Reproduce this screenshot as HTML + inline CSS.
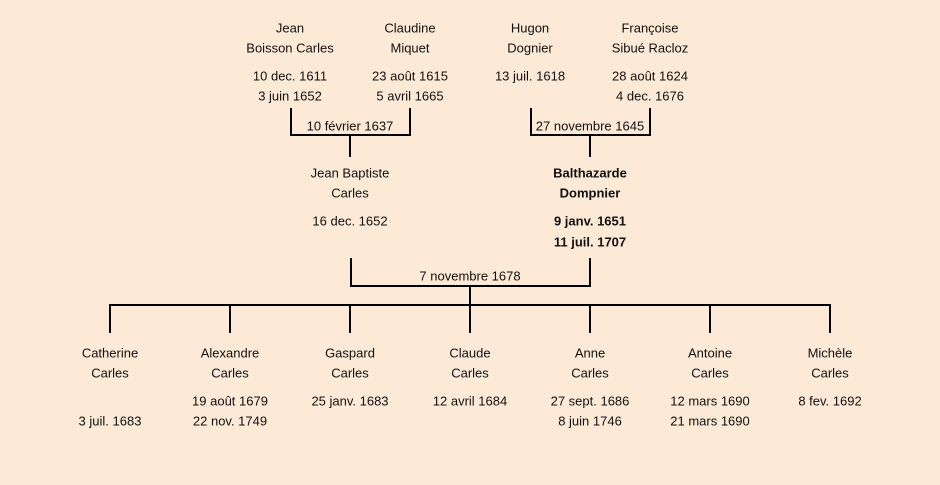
<!DOCTYPE html>
<html><head><meta charset="utf-8"><style>
html,body{margin:0;padding:0;background:#fce9d6;}
svg{display:block}
text{font-family:"Liberation Sans",sans-serif;font-size:13px;fill:#111;text-anchor:middle;dominant-baseline:central}
.b{font-weight:bold}
</style></head><body>
<svg width="940" height="485" viewBox="0 0 940 485">
<rect width="940" height="485" fill="#fce9d6"/>
<g stroke="#000" stroke-width="2" fill="none">
<path d="M291 108V135H410V108M350 135V157"/>
<path d="M531 108V135H650V108M590 135V157"/>
<path d="M351 258V286H590V258M470 286V305"/>
<path d="M110 333V305H830V333M230 305V333M350 305V333M470 305V333M590 305V333M710 305V333"/>
</g>
<g transform="translate(0,1)">
<text x="290" y="27">Jean</text><text x="290" y="47">Boisson Carles</text>
<text x="290" y="75">10 dec. 1611</text><text x="290" y="95">3 juin 1652</text>
<text x="410" y="27">Claudine</text><text x="410" y="47">Miquet</text>
<text x="410" y="75">23 août 1615</text><text x="410" y="95">5 avril 1665</text>
<text x="530" y="27">Hugon</text><text x="530" y="47">Dognier</text>
<text x="530" y="75">13 juil. 1618</text>
<text x="650" y="27">Françoise</text><text x="650" y="47">Sibué Racloz</text>
<text x="650" y="75">28 août 1624</text><text x="650" y="95">4 dec. 1676</text>
<text x="350" y="125">10 février 1637</text>
<text x="590" y="125">27 novembre 1645</text>
<text x="350" y="172">Jean Baptiste</text><text x="350" y="192">Carles</text>
<text x="350" y="220">16 dec. 1652</text>
<text class="b" x="590" y="172">Balthazarde</text><text class="b" x="590" y="192">Dompnier</text>
<text class="b" x="590" y="220">9 janv. 1651</text><text class="b" x="590" y="241">11 juil. 1707</text>
<text x="470" y="275">7 novembre 1678</text>
<text x="110" y="352">Catherine</text><text x="110" y="372">Carles</text><text x="110" y="420">3 juil. 1683</text>
<text x="230" y="352">Alexandre</text><text x="230" y="372">Carles</text><text x="230" y="400">19 août 1679</text><text x="230" y="420">22 nov. 1749</text>
<text x="350" y="352">Gaspard</text><text x="350" y="372">Carles</text><text x="350" y="400">25 janv. 1683</text>
<text x="470" y="352">Claude</text><text x="470" y="372">Carles</text><text x="470" y="400">12 avril 1684</text>
<text x="590" y="352">Anne</text><text x="590" y="372">Carles</text><text x="590" y="400">27 sept. 1686</text><text x="590" y="420">8 juin 1746</text>
<text x="710" y="352">Antoine</text><text x="710" y="372">Carles</text><text x="710" y="400">12 mars 1690</text><text x="710" y="420">21 mars 1690</text>
<text x="830" y="352">Michèle</text><text x="830" y="372">Carles</text><text x="830" y="400">8 fev. 1692</text>
</g>
</svg>
</body></html>
